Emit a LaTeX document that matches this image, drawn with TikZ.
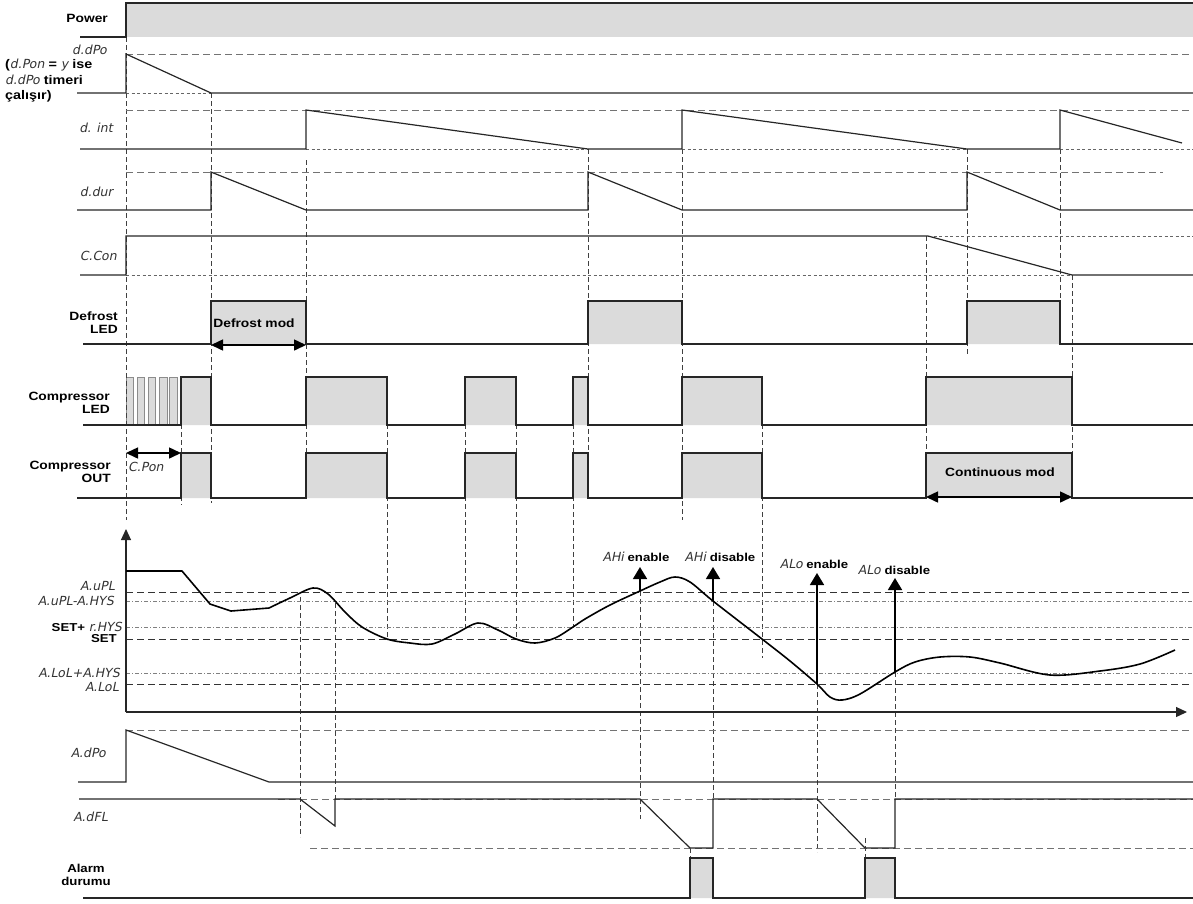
\documentclass[tikz,border=0pt]{standalone}
\usepackage{fontspec}
\setmainfont{Liberation Sans}
\newfontfamily\lblfont{Liberation Sans}[FakeStretch=1.15]
\newfontfamily\segfont{DejaVu Sans}[FakeSlant=0.2]
\newcommand\segtxt[1]{{\segfont\mdseries\fontsize{12.5}{14}\selectfont\color{black!80}#1}}
\usetikzlibrary{arrows.meta}

\begin{document}
\begin{tikzpicture}[x=1pt,y=-1pt,
  >={Triangle[length=12pt,width=11pt]},
  sig/.style={line width=1.2pt,black!85},
  onfill/.style={fill=black!14},
  guide/.style={line width=0.6pt,black!75,dash pattern=on 5pt off 3pt},
  lvl/.style={line width=0.9pt,black!55,dash pattern=on 7pt off 4pt},
  low/.style={line width=0.7pt,black!60,dash pattern=on 3pt off 2.5pt},
  ref/.style={line width=0.8pt,black!80,dash pattern=on 7pt off 4pt},
  hys/.style={line width=0.8pt,black!50,dash pattern=on 4pt off 2pt on 1pt off 2pt},
  lbl/.style={inner sep=0pt,anchor=east,align=right,font=\lblfont\bfseries\fontsize{12}{13}\selectfont},
  sublbl/.style={inner sep=0pt,font=\lblfont\bfseries\fontsize{11.5}{13}\selectfont},
  seg/.style={inner sep=0pt,anchor=east,text=black!80,font=\segfont\fontsize{12.5}{14}\selectfont},
  alarr/.style={line width=1.6pt,-{Triangle[length=12pt,width=14pt]}}]
  \useasboundingbox (0,0) rectangle (1193,903);

  % grey "on" areas
  \fill[onfill] (126,4) rectangle (1193,37);
  \fill[onfill] (211,301) rectangle (306,344) (588,301) rectangle (682,344) (967,301) rectangle (1060,344);
  \fill[onfill] (181,377) rectangle (211,425) (306,377) rectangle (387,425) (465,377) rectangle (516,425)
    (573,377) rectangle (588,425) (682,377) rectangle (762,425) (926,377) rectangle (1072,425);
  \fill[onfill] (181,453) rectangle (211,498) (306,453) rectangle (387,498) (465,453) rectangle (516,498)
    (573,453) rectangle (588,498) (682,453) rectangle (762,498) (926,453) rectangle (1072,498);
  \fill[onfill] (690,858) rectangle (713,898) (865,858) rectangle (895,898);
  \draw[fill=black!14,draw=black!45,line width=0.5pt] (126,377) rectangle (133,425) (137,377) rectangle (144,425)
    (148,377) rectangle (155,425) (159,377) rectangle (167,425) (169,377) rectangle (177,425);

  % vertical guides
  \draw[guide] (126,37) -- (126,520);
  \draw[guide] (181,424) -- (181,505);
  \draw[guide] (211,93) -- (211,503);
  \draw[guide] (306,160) -- (306,453);
  \draw[guide] (387,424) -- (387,640);
  \draw[guide] (465,424) -- (465,627);
  \draw[guide] (516,424) -- (516,639);
  \draw[guide] (573,424) -- (573,627);
  \draw[guide] (588,149) -- (588,498);
  \draw[guide] (682,149) -- (682,520);
  \draw[guide] (762,424) -- (762,658);
  \draw[guide] (926,236) -- (926,497);
  \draw[guide] (967,149) -- (967,355);
  \draw[guide] (1060,149) -- (1060,300);
  \draw[guide] (1072,275) -- (1072,453);
  \draw[guide] (300,597) -- (300,837);
  \draw[guide] (335,603) -- (335,800);
  \draw[guide] (640,591) -- (640,819);
  \draw[guide] (713,601) -- (713,800);
  \draw[guide] (817,684) -- (817,852);
  \draw[guide] (895,672) -- (895,800);
  \draw[guide] (690,848) -- (690,858);
  \draw[guide] (865,838) -- (865,858);

  % level lines
  \draw[lvl] (126,54) -- (1193,54);
  \draw[low] (126,93) -- (211,93);
  \draw[lvl] (126,110) -- (1193,110);
  \draw[low] (306,149) -- (588,149) (682,149) -- (967,149) (1060,149) -- (1193,149);
  \draw[lvl] (126,172) -- (1163,172);
  \draw[low] (126,275) -- (1072,275) (928,236) -- (1193,236);
  \draw[lvl] (126,730) -- (1193,730);
  \draw[lvl] (278,799) -- (1193,799);
  \draw[lvl] (310,848) -- (1193,848);
  \draw[ref] (126,592) -- (1193,592);
  \draw[hys] (126,601) -- (1193,601);
  \draw[hys] (126,627) -- (1193,627);
  \draw[ref] (126,639) -- (1193,639);
  \draw[hys] (126,673) -- (1193,673);
  \draw[ref] (126,684) -- (1193,684);

  % signals
  \draw[sig] (80,37) -- (126,37) -- (126,3) -- (1193,3);
  \draw[sig] (77,93) -- (126,93) -- (126,54) -- (211,93) -- (1193,93);
  \draw[sig] (80,149) -- (306,149) -- (306,110) -- (588,149) -- (682,149) -- (682,110) -- (967,149)
    -- (1060,149) -- (1060,110) -- (1182,143);
  \draw[sig] (77,210) -- (211,210) -- (211,172) -- (306,210) -- (588,210) -- (588,172) -- (682,210)
    -- (967,210) -- (967,172) -- (1060,210) -- (1193,210);
  \draw[sig] (80,275) -- (126,275) -- (126,236) -- (928,236) -- (1072,275) -- (1193,275);
  \draw[sig] (83,344) -- (211,344) -- (211,301) -- (306,301) -- (306,344) -- (588,344) -- (588,301)
    -- (682,301) -- (682,344) -- (967,344) -- (967,301) -- (1060,301) -- (1060,344) -- (1193,344);
  \draw[sig] (83,425) -- (181,425) -- (181,377) -- (211,377) -- (211,425) -- (306,425) -- (306,377)
    -- (387,377) -- (387,425) -- (465,425) -- (465,377) -- (516,377) -- (516,425) -- (573,425)
    -- (573,377) -- (588,377) -- (588,425) -- (682,425) -- (682,377) -- (762,377) -- (762,425)
    -- (926,425) -- (926,377) -- (1072,377) -- (1072,425) -- (1193,425);
  \draw[sig] (77,498) -- (181,498) -- (181,453) -- (211,453) -- (211,498) -- (306,498) -- (306,453)
    -- (387,453) -- (387,498) -- (465,498) -- (465,453) -- (516,453) -- (516,498) -- (573,498)
    -- (573,453) -- (588,453) -- (588,498) -- (682,498) -- (682,453) -- (762,453) -- (762,498)
    -- (926,498) -- (926,453) -- (1072,453) -- (1072,498) -- (1193,498);
  \draw[sig] (78,782) -- (126,782) -- (126,730) -- (269,782) -- (1193,782);
  \draw[sig] (79,799) -- (300,799) -- (335,826) -- (335,799) -- (640,799) -- (690,848) -- (713,848)
    -- (713,799) -- (817,799) -- (865,848) -- (895,848) -- (895,799) -- (1193,799);
  \draw[sig] (83,898) -- (690,898) -- (690,858) -- (713,858) -- (713,898) -- (865,898) -- (865,858)
    -- (895,858) -- (895,898) -- (1193,898);

  % axes and measured value
  \coordinate (org) at (126,712);
  \coordinate (ytip) at (126,529);
  \coordinate (xtip) at (1187,712);
  \draw[sig,-{Triangle[length=11pt,width=10pt]}] (org) -- (ytip);
  \draw[sig,-{Triangle[length=11pt,width=10pt]}] (org) -- (xtip);
  \draw[line width=1.6pt,line join=round] (126,571) -- (182,571) -- (210,604) -- (231,611) -- (269,608)
    plot[smooth,tension=0.55] coordinates {(269,608) (290,598) (313,588) (328,594) (345,612) (362,627)
    (387,639) (410,643) (432,644) (455,634) (478,623) (498,630) (516,639) (535,643) (555,638) (573,627)
    (585,619) (610,605) (640,591) (660,582) (675,577) (690,582) (713,601) (762,639) (790,661) (817,684)
    (830,697) (842,700) (860,694) (895,672) (915,662) (940,657) (970,657) (1000,663) (1050,675)
    (1100,671) (1140,664) (1175,650)};

  % time spans
  \coordinate (dms) at (211,345);
  \coordinate (dme) at (306,345);
  \draw[<->,line width=1.5pt] (dms) -- (dme);
  \coordinate (cps) at (126,453);
  \coordinate (cpe) at (181,453);
  \draw[<->,line width=1.5pt] (cps) -- (cpe);
  \coordinate (cms) at (926,497);
  \coordinate (cme) at (1072,497);
  \draw[<->,line width=1.5pt] (cms) -- (cme);

  % row labels
  \node[lbl] (power) at (108,18) {Power};
  \node[seg,anchor=west] (ddpo) at (72,50) {d.dPo};
  \node[lbl,anchor=north west,align=left,font=\lblfont\bfseries\fontsize{12.5}{15.5}\selectfont] (ddpon) at (5,59)
    {(\segtxt{d.Pon} = \segtxt{y} ise\\\segtxt{d.dPo} timeri\\çalışır)};
  \node[seg] (dint) at (113,128) {d. int};
  \node[seg] (ddur) at (113,192) {d.dur};
  \node[seg] (ccon) at (117,256) {C.Con};
  \node[lbl] (dled) at (118,322.5) {Defrost\\LED};
  \node[lbl] (cled) at (110,402.5) {Compressor\\LED};
  \node[lbl] (cout) at (111,471.5) {Compressor\\OUT};
  \node[seg,anchor=west] (cpon) at (128,467) {C.Pon};
  \node[lbl,anchor=center] (dmod) at (254,323) {Defrost mod};
  \node[lbl,anchor=center] (cmod) at (1000,472) {Continuous mod};
  \node[seg] (adpo) at (106,753) {A.dPo};
  \node[seg] (adfl) at (108,817) {A.dFL};
  \node[sublbl,align=center] (alarm) at (86,875) {Alarm\\durumu};

  % value levels
  \node[seg] (aupl) at (115,586) {A.uPL};
  \node[seg] (auplh) at (114,601) {A.uPL-A.HYS};
  \node[sublbl,anchor=east] (setr) at (122,627) {SET+ \segtxt{r.HYS}};
  \node[sublbl,anchor=east] (set) at (117,639) {SET};
  \node[seg] (alolh) at (120,673) {A.LoL+A.HYS};
  \node[seg] (alol) at (119,687) {A.LoL};

  % alarm events
  \node[sublbl] (ahien) at (636,557) {\segtxt{AHi} enable};
  \node[sublbl] (ahidis) at (720,557) {\segtxt{AHi} disable};
  \node[sublbl] (aloen) at (814,564) {\segtxt{ALo} enable};
  \node[sublbl] (alodis) at (894,570) {\segtxt{ALo} disable};
  \coordinate (ahie) at (640,591);
  \coordinate (ahiet) at (640,567);
  \coordinate (ahid) at (713,601);
  \coordinate (ahidt) at (713,567);
  \coordinate (aloe) at (817,684);
  \coordinate (aloet) at (817,573);
  \coordinate (alod) at (895,672);
  \coordinate (alodt) at (895,578);
  \draw[alarr] (ahie) -- (ahiet);
  \draw[alarr] (ahid) -- (ahidt);
  \draw[alarr] (aloe) -- (aloet);
  \draw[alarr] (alod) -- (alodt);
\end{tikzpicture}
\end{document}
